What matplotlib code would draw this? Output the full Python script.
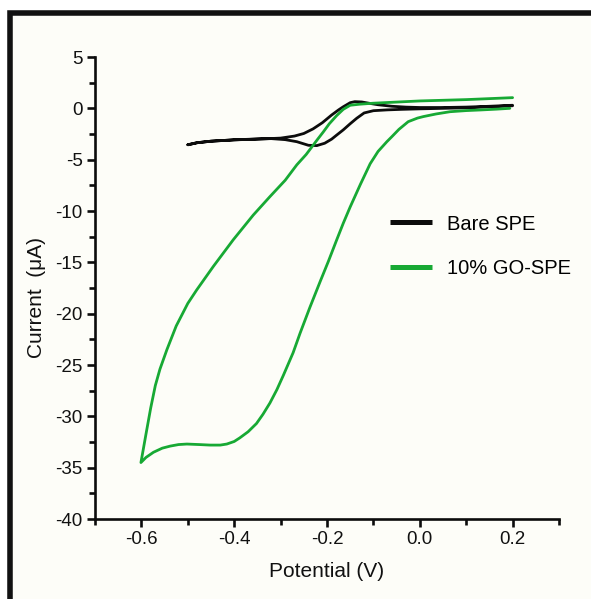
import matplotlib
matplotlib.use('Agg')
import matplotlib.pyplot as plt
import numpy as np
from matplotlib.patches import Rectangle
from matplotlib.ticker import MultipleLocator

# Bare SPE: anodic sweep (-0.5 -> 0.2) then cathodic back
bare_fwd_v = [-0.50, -0.48, -0.45, -0.40, -0.35, -0.30, -0.27, -0.25, -0.23, -0.21, -0.19,
              -0.175, -0.165, -0.15, -0.14, -0.125, -0.11, -0.09, -0.06, -0.03, 0.00,
              0.05, 0.10, 0.15, 0.20]
bare_fwd_i = [-3.55, -3.35, -3.2, -3.07, -3.0, -2.9, -2.7, -2.45, -2.0, -1.4, -0.65,
              -0.15, 0.15, 0.55, 0.65, 0.62, 0.5, 0.35, 0.2, 0.12, 0.08,
              0.08, 0.12, 0.2, 0.3]
bare_rev_v = [0.20, 0.15, 0.10, 0.05, 0.00, -0.04, -0.07, -0.10, -0.12, -0.136, -0.15,
              -0.165, -0.179, -0.19, -0.205, -0.222, -0.24, -0.265, -0.29, -0.32,
              -0.35, -0.40, -0.45, -0.48, -0.50]
bare_rev_i = [0.25, 0.15, 0.05, 0.0, -0.05, -0.1, -0.15, -0.23, -0.45, -0.97, -1.5,
              -2.1, -2.6, -3.0, -3.4, -3.63, -3.6, -3.25, -3.05, -2.95,
              -2.98, -3.07, -3.2, -3.35, -3.55]

# 10% GO-SPE: cathodic sweep (0.2 -> -0.6) then back
go_rev_v = [0.20, 0.10, 0.00, -0.10, -0.13, -0.15, -0.165, -0.179, -0.195, -0.208, -0.22,
            -0.230, -0.245, -0.265, -0.29, -0.323, -0.359, -0.402, -0.445, -0.481,
            -0.50, -0.525, -0.545, -0.56, -0.57, -0.58, -0.59, -0.601]
go_rev_i = [1.04, 0.85, 0.72, 0.5, 0.4, 0.3, -0.1, -0.7, -1.5, -2.3, -3.0,
            -3.6, -4.5, -5.5, -7.0, -8.6, -10.4, -12.8, -15.4, -17.7,
            -19.0, -21.2, -23.5, -25.4, -27.0, -29.2, -31.7, -34.5]
go_fwd_v = [-0.601, -0.59, -0.574, -0.555, -0.538, -0.52, -0.502, -0.475, -0.452, -0.43,
            -0.416, -0.40, -0.388, -0.37, -0.352, -0.338, -0.323, -0.308, -0.294, -0.273,
            -0.258, -0.237, -0.215, -0.197, -0.179, -0.165, -0.150, -0.128, -0.107, -0.09,
            -0.071, -0.06, -0.045, -0.025, -0.005, 0.008, 0.035, 0.065, 0.10, 0.130,
            0.165, 0.194]
go_fwd_i = [-34.5, -34.0, -33.5, -33.1, -32.9, -32.75, -32.7, -32.75, -32.8, -32.8,
            -32.7, -32.45, -32.1, -31.5, -30.7, -29.8, -28.7, -27.4, -26.0, -23.8,
            -21.9, -19.4, -16.9, -14.9, -12.8, -11.2, -9.6, -7.4, -5.4, -4.2,
            -3.25, -2.75, -2.05, -1.3, -0.95, -0.8, -0.55, -0.33, -0.22, -0.16,
            -0.08, 0.0]

labels = ['Bare SPE', '10% GO-SPE']
colors = ['#0c0c0c', '#17a934']

font = ['Liberation Sans', 'DejaVu Sans']

W, H = 591, 599
fig = plt.figure(figsize=(W / 100, H / 100), dpi=100)
fig.patch.set_facecolor('white')
frame = Rectangle((10 / W, -0.1), 1.2, (H - 13) / H + 0.1, transform=fig.transFigure,
                  facecolor='#fdfdf8', edgecolor='#111111', linewidth=4.0, zorder=-10)
fig.add_artist(frame)

ax = fig.add_axes([95 / W, 80 / H, 464 / W, 462 / H])
ax.set_facecolor('none')

ax.plot(np.concatenate([bare_fwd_v, bare_rev_v]), np.concatenate([bare_fwd_i, bare_rev_i]),
        color=colors[0], lw=2.0, label=labels[0], solid_capstyle='round')
ax.plot(np.concatenate([go_rev_v, go_fwd_v]), np.concatenate([go_rev_i, go_fwd_i]),
        color=colors[1], lw=2.0, label=labels[1], solid_capstyle='round')

ax.set_xlim(-0.7, 0.3)
ax.set_ylim(-40, 5)
ax.xaxis.set_major_locator(MultipleLocator(0.2))
ax.xaxis.set_minor_locator(MultipleLocator(0.1))
ax.yaxis.set_major_locator(MultipleLocator(5))
ax.yaxis.set_minor_locator(MultipleLocator(2.5))
ax.xaxis.set_major_formatter(plt.FuncFormatter(lambda v, p: f'{v:.1f}'))
ax.yaxis.set_major_formatter(plt.FuncFormatter(lambda v, p: f'{v:.0f}'))

for s in ['top', 'right']:
    ax.spines[s].set_visible(False)
for s in ['left', 'bottom']:
    ax.spines[s].set_linewidth(1.9)
    ax.spines[s].set_color('#0c0c0c')

ax.tick_params(which='major', direction='out', length=5.8, width=1.9, pad=3, colors='#0c0c0c')
ax.tick_params(which='minor', direction='out', length=4.0, width=1.9, colors='#0c0c0c')
for t in ax.get_xticklabels() + ax.get_yticklabels():
    t.set_family(font)
    t.set_fontsize(13.5)
    t.set_color('#111111')

ax.set_xlabel('Potential (V)', family=font, fontsize=15, color='#111111', labelpad=10)
ax.set_ylabel('Current  (μA)', family=font, fontsize=15, color='#111111')
ax.yaxis.set_label_coords(-0.105, 0.48)

leg = ax.legend(loc='upper left', bbox_to_anchor=(0.636, 0.659), frameon=False,
                prop={'family': font, 'size': 14.5}, handlelength=2.1,
                handletextpad=0.74, labelspacing=1.28, borderpad=0, borderaxespad=0)
for line in leg.get_lines():
    line.set_linewidth(3.6)
    line.set_solid_capstyle('butt')

fig.savefig('out.png', dpi=100)
